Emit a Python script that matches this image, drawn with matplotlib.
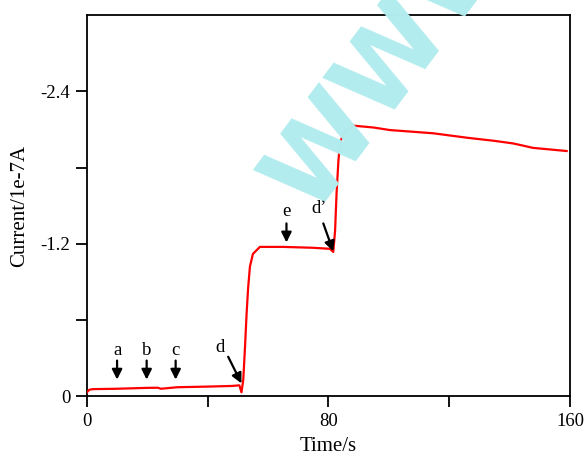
"""Current vs time step response with watermark."""

import matplotlib

matplotlib.use("Agg")
import matplotlib.pyplot as plt

time_s = [0, 0.8, 2, 10, 20, 23.5, 24.5, 30, 40, 48, 50.5, 51.2, 51.8, 52.4, 52.9,
          53.4, 54.0, 55.0, 57.3, 65, 75, 80.5, 81.6, 82.2, 82.7, 83.3, 83.8,
          84.8, 86.0, 88.2, 95, 100.4, 114.6, 125.8, 135, 141.1, 144, 147.7, 158.9]
current = [-0.03, -0.05, -0.055, -0.058, -0.065, -0.066, -0.058, -0.07, -0.075, -0.08,
           -0.085, -0.03, -0.13, -0.4, -0.65, -0.85, -1.02, -1.12, -1.175, -1.175,
           -1.168, -1.16, -1.135, -1.3, -1.6, -1.85, -1.99, -2.06, -2.1, -2.13,
           -2.115, -2.095, -2.07, -2.035, -2.01, -1.99, -1.975, -1.955, -1.93]

x_ticks = [0, 40, 80, 120, 160]
x_labels = ["0", "", "80", "", "160"]
y_ticks = [0, -0.6, -1.2, -1.8, -2.4]
y_labels = ["0", "", "-1.2", "", "-2.4"]

# annotation: label, label pos (t, I), arrow tail, arrow head
marks = [
    ("a", (10.0, -0.36), (10.0, -0.28), (10.0, -0.13)),
    ("b", (19.8, -0.36), (19.8, -0.28), (19.8, -0.13)),
    ("c", (29.4, -0.36), (29.4, -0.28), (29.4, -0.13)),
    ("d", (44.1, -0.38), (46.8, -0.31), (51.2, -0.1)),
    ("e", (66.1, -1.45), (66.1, -1.36), (66.1, -1.21)),
    ("d\u2019", (76.8, -1.48), (78.3, -1.36), (81.6, -1.14)),
]

plt.rcParams["font.family"] = ["Liberation Serif", "DejaVu Serif"]

fig = plt.figure(figsize=(5.87, 4.59), dpi=100)
ax = fig.add_axes([0.148, 0.137, 0.823, 0.830])

# watermark
fig.text(0.532, 0.529, "WWW", fontsize=76, fontfamily="DejaVu Sans", fontweight="bold",
         color="#b2ecee", rotation=53, rotation_mode="anchor", ha="left", va="baseline",
         zorder=0)
ax.patch.set_alpha(0)

ax.plot(time_s, current, color="red", lw=1.6, zorder=3)

for label, text_pos, tail, head in marks:
    ax.text(text_pos[0], text_pos[1], label, fontsize=13.5, ha="center", va="center")
    ax.annotate("", xy=head, xytext=tail,
                arrowprops=dict(arrowstyle="-|>", color="black", lw=1.6, mutation_scale=15,
                                shrinkA=0, shrinkB=0))

ax.set_xlim(0, 160)
ax.set_ylim(0, -3.0)
ax.set_xticks(x_ticks)
ax.set_xticklabels(x_labels)
ax.set_yticks(y_ticks)
ax.set_yticklabels(y_labels)
ax.tick_params(direction="out", length=8, width=1.3, labelsize=13.5, pad=4, colors="black")
for s in ax.spines.values():
    s.set_linewidth(1.3)

ax.set_xlabel("Time/s", fontsize=15, labelpad=5)
ax.set_ylabel("Current/1e-7A", fontsize=15, labelpad=8)

fig.savefig("out.png", dpi=100)
